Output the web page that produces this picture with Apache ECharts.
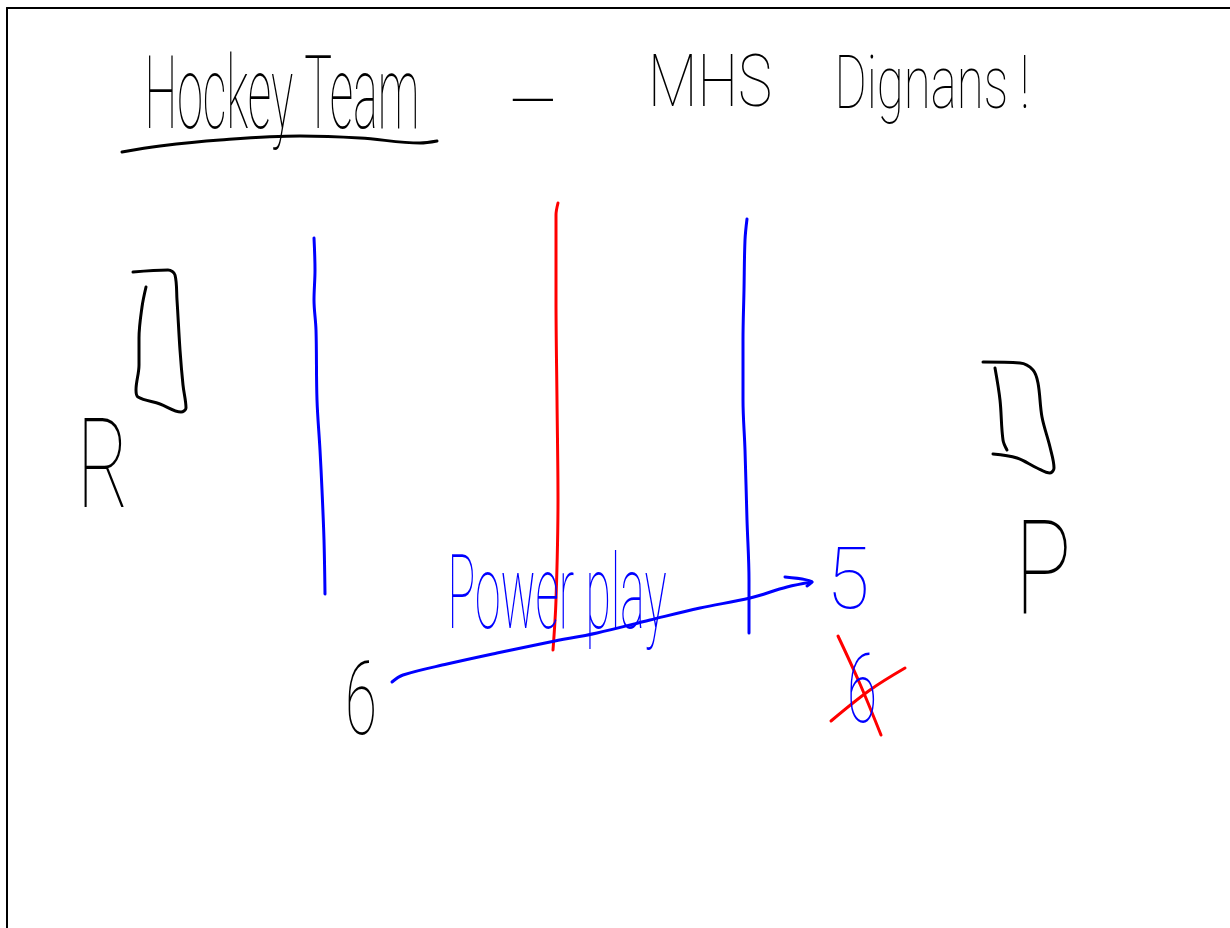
<!DOCTYPE html>
<html>
<head>
<meta charset="utf-8">
<title>Hockey Team - MHS Dignans!</title>
<script src="https://cdn.jsdelivr.net/npm/echarts@6/dist/echarts.min.js"></script>
<style>
  html, body { margin: 0; padding: 0; background: #fff; }
  #board { width: 1230px; height: 928px; }
</style>
</head>
<body>
<div id="board"></div>
<script>
// whiteboard coordinates: x to the right, y downwards
// black strokes
const titleUnderline = [[122,152],[160,146],[220,140],[300,136],[360,138],[420,143],[437,141]]
const leftNet = [[133,272],[168,270],[175,275],[177,300],[180,350],[183,385],[186,408],[181,412],[160,404],[138,397],[136,390],[139,365],[139,338],[142,307],[146,287]]
const rightNetOuter = [[983,362],[1020,363],[1033,370],[1038,383],[1042,417],[1050,447],[1054,468],[1050,473],[1037,468],[1017,458],[993,454]]
const rightNetInner = [[995,368],[1000,400],[1003,440],[1007,450]]

// blue strokes
const leftBlueLine = [[314,238],[315,270],[314,300],[316,330],[317,400],[320,450],[322,490],[324,540],[325,594]]
const rightBlueLine = [[747,219],[745,240],[744,290],[743,340],[743,400],[745,450],[747,520],[749,580],[749,633]]
const powerPlayArrow = [[392,682],[403,675],[447,664],[497,653],[550,642],[597,633],[650,620],[700,608],[750,598],[787,587],[812,582]]
const arrowHead = [[785,577],[812,582],[807,586]]

// red strokes
const centerRedLine = [[558,203],[556,215],[556,300],[557,400],[558,500],[556,600],[553,650]]
const crossOutA = [[838,636],[860,684],[881,735]]
const crossOutB = [[831,721],[870,690],[905,668]]

// written words and numbers
const labelTexts = ['Hockey Team', '—', 'MHS', 'Dignans !', 'R', 'P', '6', 'Power play', '5', '6']
const labelX = [282, 533, 710, 932, 103, 1043, 361, 557, 848, 862]
const labelY = [92, 101, 81, 82, 463, 568, 698, 592, 578, 688]

// look of each label: cap height, width on the board, colour
const labelLook = [
  { cap: 73, w: 275, color: '#000' },
  { cap: 60, w: 47, color: '#000' },
  { cap: 51, w: 124, color: '#000' },
  { cap: 53, w: 195, color: '#000' },
  { cap: 89, w: 52, color: '#000' },
  { cap: 93, w: 57, color: '#000' },
  { cap: 73, w: 32, color: '#000' },
  { cap: 74, w: 219, color: '#0000ff' },
  { cap: 61, w: 43, color: '#0000ff' },
  { cap: 69, w: 30, color: '#0000ff' }
]

const FONT = 'Roboto, "Liberation Sans", sans-serif'
const WEIGHT = 100
const measureCtx = document.createElement('canvas').getContext('2d')

const stroke = (data, color) => ({
  type: 'line',
  data,
  smooth: 0.35,
  showSymbol: false,
  silent: true,
  lineStyle: { color, width: 3, cap: 'round', join: 'round' }
})

const chart = echarts.init(document.getElementById('board'))

chart.setOption({
  animation: false,
  backgroundColor: '#fff',
  grid: { left: 7, top: 8, right: 0, bottom: 0 },
  xAxis: {
    type: 'value',
    min: 7,
    max: 1230,
    position: 'top',
    axisLine: { show: true, onZero: false, lineStyle: { color: '#000', width: 2 } },
    axisTick: { show: false },
    axisLabel: { show: false },
    splitLine: { show: false }
  },
  yAxis: {
    type: 'value',
    min: 8,
    max: 928,
    inverse: true,
    axisLine: { show: true, onZero: false, lineStyle: { color: '#000', width: 2 } },
    axisTick: { show: false },
    axisLabel: { show: false },
    splitLine: { show: false }
  },
  series: [
    stroke(titleUnderline, '#000'),
    stroke(leftNet, '#000'),
    stroke(rightNetOuter, '#000'),
    stroke(rightNetInner, '#000'),
    stroke(leftBlueLine, '#0000ff'),
    stroke(rightBlueLine, '#0000ff'),
    stroke(centerRedLine, '#ff0000'),
    stroke(powerPlayArrow, '#0000ff'),
    stroke(arrowHead, '#0000ff'),
    stroke(crossOutA, '#ff0000'),
    stroke(crossOutB, '#ff0000'),
    {
      type: 'custom',
      silent: true,
      clip: false,
      encode: { x: 0, y: 1 },
      data: labelX.map((x, i) => [x, labelY[i], i]),
      z: 5,
      renderItem: (params, api) => {
        const i = api.value(2)
        const look = labelLook[i]
        const pt = api.coord([api.value(0), api.value(1)])
        const size = api.size([look.w, look.cap])
        const fontSize = size[1] / 0.711
        measureCtx.font = `${WEIGHT} ${fontSize}px ${FONT}`
        const natural = measureCtx.measureText(labelTexts[i]).width
        return {
          type: 'text',
          x: pt[0],
          y: pt[1] + fontSize * 0.1,
          scaleX: size[0] / natural,
          style: {
            text: labelTexts[i],
            fill: look.color,
            fontSize,
            fontFamily: FONT,
            fontWeight: WEIGHT,
            align: 'center',
            verticalAlign: 'middle'
          }
        }
      }
    }
  ]
})

window.addEventListener('resize', () => chart.resize())
</script>
</body>
</html>
